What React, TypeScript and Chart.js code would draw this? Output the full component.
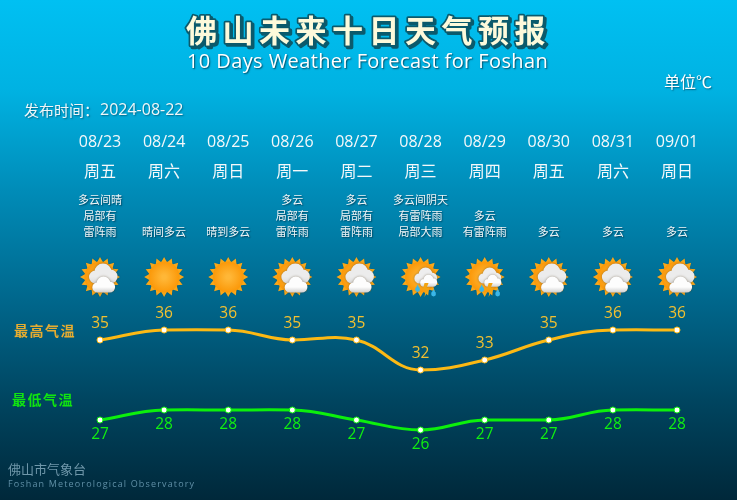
import React, { useEffect, useRef } from "react";
import { Chart, registerables } from "chart.js";

Chart.register(...registerables);

const dates = ["08/23", "08/24", "08/25", "08/26", "08/27", "08/28", "08/29", "08/30", "08/31", "09/01"];
const weekdays = ["周五", "周六", "周日", "周一", "周二", "周三", "周四", "周五", "周六", "周日"];
const highTemps = [35, 36, 36, 35, 35, 32, 33, 35, 36, 36];
const lowTemps = [27, 28, 28, 28, 27, 26, 27, 27, 28, 28];
const descriptions = [
  ["多云间晴", "局部有", "雷阵雨"],
  ["晴间多云"],
  ["晴到多云"],
  ["多云", "局部有", "雷阵雨"],
  ["多云", "局部有", "雷阵雨"],
  ["多云间阴天", "有雷阵雨", "局部大雨"],
  ["多云", "有雷阵雨"],
  ["多云"],
  ["多云"],
  ["多云"],
];
const icons = ["cloudy", "sun", "sun", "cloudy", "cloudy", "storm", "storm", "cloudy", "cloudy", "cloudy"];

const titleText = "佛山未来十日天气预报";
const subtitleText = "10 Days Weather Forecast for Foshan";
const unitText = "单位℃";
const publishLabel = "发布时间：";
const publishDate = "2024-08-22";
const highLabel = "最高气温";
const lowLabel = "最低气温";
const footerCn = "佛山市气象台";
const footerEn = "Foshan Meteorological Observatory";

const CJK = '"Noto Sans CJK SC", "Noto Sans", sans-serif';
const MIXED = '"Open Sans", "Noto Sans CJK SC", sans-serif';

function text(ctx: any, s: string, x: number, y: number, font: string, color: string, align = "left", spacing = "0px", shadow = "") {
  ctx.save();
  ctx.font = font;
  ctx.textAlign = align;
  ctx.textBaseline = "middle";
  ctx.letterSpacing = spacing;
  if (shadow) {
    ctx.shadowColor = shadow;
    ctx.shadowBlur = 1.5;
    ctx.shadowOffsetX = 1;
    ctx.shadowOffsetY = 1;
  }
  ctx.fillStyle = color;
  ctx.fillText(s, x, y);
  ctx.restore();
}

function puff(ctx: any, cx: number, cy: number, s: number, top: string, bottom: string) {
  const g = ctx.createLinearGradient(0, cy - 10.5 * s, 0, cy + 9.5 * s);
  g.addColorStop(0, top);
  g.addColorStop(0.65, top);
  g.addColorStop(1, bottom);
  ctx.fillStyle = g;
  ctx.beginPath();
  const arcs = [
    [-7.5, 3, 6.5],
    [0, -2, 8.5],
    [7.5, 2.5, 7],
  ];
  arcs.forEach(([dx, dy, r]) => {
    ctx.moveTo(cx + (dx + r) * s, cy + dy * s);
    ctx.arc(cx + dx * s, cy + dy * s, r * s, 0, Math.PI * 2);
  });
  ctx.rect(cx - 7.5 * s, cy + 2 * s, 15 * s, 7.5 * s);
  ctx.fill();
}

function drawSun(ctx: any, x: number, y: number) {
  ctx.save();
  ctx.shadowColor = "rgba(0,50,70,0.35)";
  ctx.shadowBlur = 1.5;
  ctx.fillStyle = "#f8a81a";
  ctx.beginPath();
  const n = 16;
  for (let i = 0; i < n * 2; i++) {
    const r = i % 2 === 0 ? 20 : 15;
    const a = (i / (n * 2)) * Math.PI * 2 - Math.PI / 2;
    ctx.lineTo(x + Math.cos(a) * r, y + Math.sin(a) * r);
  }
  ctx.closePath();
  ctx.fill();
  ctx.restore();
  const g = ctx.createRadialGradient(x, y, 2, x, y, 15.5);
  g.addColorStop(0, "#ffb737");
  g.addColorStop(1, "#fb9808");
  ctx.fillStyle = g;
  ctx.beginPath();
  ctx.arc(x, y, 15.5, 0, Math.PI * 2);
  ctx.fill();
}

function drawCloudy(ctx: any, x: number, y: number) {
  ctx.save();
  ctx.shadowColor = "rgba(80,60,30,0.55)";
  ctx.shadowBlur = 2.5;
  puff(ctx, x + 3, y - 3, 1.0, "#ececec", "#dcdcdc");
  puff(ctx, x + 3.5, y + 8, 0.8, "#fdfdfd", "#cfcfcf");
  ctx.restore();
}

function drawStorm(ctx: any, x: number, y: number) {
  ctx.save();
  ctx.shadowColor = "rgba(80,60,30,0.55)";
  ctx.shadowBlur = 2.5;
  puff(ctx, x + 5, y - 1, 0.8, "#eeeeee", "#dedede");
  puff(ctx, x + 8, y + 4, 0.6, "#fdfdfd", "#d4d4d4");
  ctx.restore();
  ctx.fillStyle = "#f2a412";
  ctx.beginPath();
  ctx.moveTo(x + 4, y + 6);
  ctx.lineTo(x + 2, y + 13);
  ctx.lineTo(x + 5, y + 12.5);
  ctx.lineTo(x + 4, y + 20);
  ctx.lineTo(x + 9, y + 10.5);
  ctx.lineTo(x + 6, y + 11);
  ctx.lineTo(x + 8, y + 6);
  ctx.closePath();
  ctx.fill();
  [[-3, 12.5], [13, 17]].forEach(([dx, dy]) => {
    ctx.fillStyle = "#3ab6e8";
    ctx.beginPath();
    ctx.arc(x + dx, y + dy, 2.4, 0, Math.PI * 2);
    ctx.fill();
    ctx.beginPath();
    ctx.moveTo(x + dx - 2, y + dy - 1);
    ctx.lineTo(x + dx, y + dy - 5);
    ctx.lineTo(x + dx + 2, y + dy - 1);
    ctx.fill();
  });
}

const backdrop = {
  id: "backdrop",
  beforeDraw(chart: any) {
    const { ctx, width, height } = chart;
    const g = ctx.createLinearGradient(0, 0, 0, height);
    g.addColorStop(0, "#00c0f2");
    g.addColorStop(0.18, "#00b2e2");
    g.addColorStop(0.38, "#008cb8");
    g.addColorStop(0.6, "#00678c");
    g.addColorStop(0.8, "#004560");
    g.addColorStop(1, "#00283a");
    ctx.save();
    ctx.fillStyle = g;
    ctx.fillRect(0, 0, width, height);
    ctx.restore();
  },
};

// Shapes the spline's tangents: flat at turning points and next to level runs.
const curveShape = {
  id: "curveShape",
  beforeDatasetDraw(chart: any, args: any) {
    const line = args.meta.dataset;
    line.updateControlPoints(chart.chartArea, "x");
    const pts = line.points;
    for (let i = 1; i < pts.length - 1; i++) {
      const a = pts[i].y - pts[i - 1].y;
      const b = pts[i + 1].y - pts[i].y;
      const delta = a + b;
      const deg = Math.abs(chart.scales.y.getValueForPixel(pts[i].y) - chart.scales.y.getValueForPixel(pts[i].y + Math.abs(delta)));
      let k = 0.2;
      if (a * b < 0) k = 0;
      else if (deg <= 1.01) k = 0.04;
      pts[i].cp1y = pts[i].y - k * delta;
      pts[i].cp2y = pts[i].y + k * delta;
    }
  },
};

const decorations = {
  id: "decorations",
  beforeDatasetsDraw(chart: any) {
    const { ctx } = chart;
    const xs = chart.scales.x;

    ctx.save();
    ctx.font = `bold 31px ${CJK}`;
    ctx.textAlign = "left";
    ctx.textBaseline = "middle";
    ctx.letterSpacing = "5.5px";
    ctx.lineJoin = "round";
    ctx.strokeStyle = "#0b5a6c";
    ctx.lineWidth = 3.5;
    ctx.strokeText(titleText, 186, 30.5);
    ctx.strokeText(titleText, 188, 32.5);
    ctx.fillStyle = "#fdfadb";
    ctx.fillText(titleText, 186, 30.5);
    ctx.restore();

    text(ctx, subtitleText, 187, 62, `20px "Open Sans", sans-serif`, "#ffffff", "left", "0.4px", "rgba(0,50,70,0.8)");
    text(ctx, unitText, 664, 82, `16px ${CJK}`, "#ffffff", "left", "0px", "rgba(0,50,70,0.6)");
    text(ctx, publishLabel, 24, 110, `15px ${CJK}`, "#f0f6f8", "left", "0px", "rgba(0,50,70,0.5)");
    text(ctx, publishDate, 100, 110, `16px "Open Sans", sans-serif`, "#f0f6f8", "left", "0px", "rgba(0,50,70,0.5)");
    text(ctx, highLabel, 14, 331, `bold 14px ${CJK}`, "#e6ac30", "left", "1.5px");
    text(ctx, lowLabel, 12, 400, `bold 14px ${CJK}`, "#10e410", "left", "1.5px");
    text(ctx, footerCn, 8, 469, `13px ${CJK}`, "#6f97aa");
    text(ctx, footerEn, 8, 484, `9px "Open Sans", sans-serif`, "#5f8fa6", "left", "1.15px");

    descriptions.forEach((lines, i) => {
      const x = xs.getPixelForValue(i);
      lines.forEach((line, j) => {
        const y = 232 - (lines.length - 1 - j) * 16;
        text(ctx, line, x, y, `11px ${CJK}`, "#f2f6f8", "center", "0px", "rgba(0,40,60,0.7)");
      });
      const iconY = 277;
      drawSun(ctx, x, iconY);
      if (icons[i] === "cloudy") drawCloudy(ctx, x, iconY);
      if (icons[i] === "storm") drawStorm(ctx, x, iconY);
    });
  },
  afterDatasetsDraw(chart: any) {
    const { ctx } = chart;
    chart.data.datasets.forEach((ds: any, d: number) => {
      chart.getDatasetMeta(d).data.forEach((pt: any, i: number) => {
        const up = d === 0;
        text(ctx, String(ds.data[i]), pt.x, pt.y + (up ? -16.5 : 14.5), `15.5px "Open Sans", sans-serif`, up ? "#f2c030" : "#10f010", "center");
      });
    });
  },
};

export default function App() {
  const ref = useRef<HTMLCanvasElement>(null);
  useEffect(() => {
    document.body.style.margin = "0";
    const chart = new Chart(ref.current as HTMLCanvasElement, {
      type: "line",
      data: {
        labels: dates.map((d, i) => [d, weekdays[i]]),
        datasets: [
          {
            label: highLabel,
            data: highTemps,
            borderColor: "#fcb914",
            borderWidth: 3,
            pointBackgroundColor: "#ffffff",
            pointBorderColor: "#fcb914",
            pointBorderWidth: 1,
            pointRadius: 3,
            tension: 0.4,
          },
          {
            label: lowLabel,
            data: lowTemps,
            borderColor: "#0cf00c",
            borderWidth: 3,
            pointBackgroundColor: "#ffffff",
            pointBorderColor: "#0cf00c",
            pointBorderWidth: 1,
            pointRadius: 3,
            tension: 0.4,
          },
        ],
      },
      options: {
        responsive: false,
        animation: false,
        layout: { padding: { left: 100, right: 60, top: 0, bottom: 10 } },
        plugins: { legend: { display: false }, title: { display: false }, tooltip: { enabled: false } },
        scales: {
          x: {
            position: "top",
            offset: false,
            grid: { display: false, drawTicks: false },
            border: { display: false },
            afterFit(axis: any) {
              axis.height = 190;
            },
            ticks: {
              autoSkip: false,
              maxRotation: 0,
              minRotation: 0,
              padding: 3,
              color: "#f4f8fa",
              font: { family: MIXED, size: 16, lineHeight: 1.875 },
            },
          },
          y: { display: false, min: 20, max: 50 },
        },
      } as any,
      plugins: [backdrop, curveShape, decorations],
    });
    return () => chart.destroy();
  }, []);
  return <canvas ref={ref} width={737} height={500} style={{ display: "block", width: 737, height: 500 }} />;
}
